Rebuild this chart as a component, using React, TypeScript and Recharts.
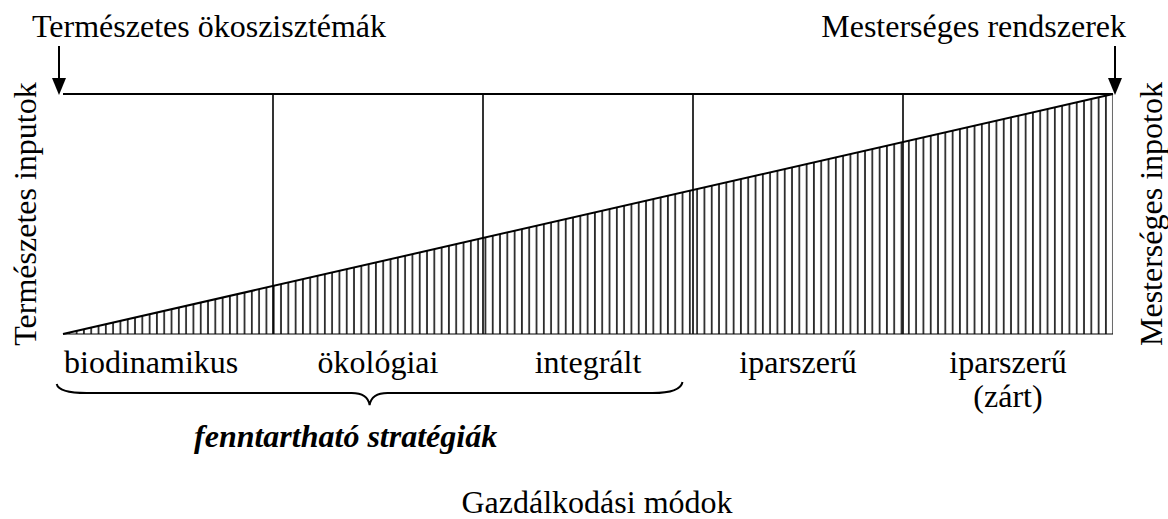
import React from "react";
import {
  ComposedChart,
  Area,
  XAxis,
  YAxis,
  ReferenceLine,
  ReferenceDot,
  ReferenceArea,
  Label,
} from "recharts";

// the triangle: natural inputs fall off as artificial inputs grow
const inputX = [0, 5];
const artificialShare = [0, 1];

// five farming modes, one segment each
const segmentBorders = [1, 2, 3, 4];
const modeLabels = [["biodinamikus"], ["ökológiai"], ["integrált"], ["iparszerű"], ["iparszerű", "(zárt)"]];
const modeLabelAt = [0.42, 1.5, 2.5, 3.5, 4.5];

// the brace under the first three modes
const braceFrom = -0.03;
const braceTo = 2.95;

const data = inputX.map((x, i) => ({ x, share: artificialShare[i] }));

const FONT = "'Times New Roman', 'Liberation Serif', serif";

const ModeTick = (props: any) => {
  const { x, y, payload } = props;
  const idx = modeLabelAt.indexOf(payload.value);
  const lines = modeLabels[idx] || [];
  return (
    <g>
      {lines.map((line, i) => (
        <text key={i} x={x} y={y + 39 + i * 34} textAnchor="middle" fontSize={32} fontFamily={FONT} fill="#000">
          {line}
        </text>
      ))}
    </g>
  );
};

const Brace = (props: any) => {
  const { x, y, width, height } = props;
  const L = x;
  const R = x + width;
  const top = y + height + 50;
  const mid = top + 9;
  const T = (L + R) / 2;
  const tipY = mid + 12;
  const d = `M${L},${top} Q${L + 2},${mid} ${L + 30},${mid} L${T - 18},${mid} Q${T - 2},${mid} ${T},${tipY} Q${T + 2},${mid} ${T + 18},${mid} L${R - 30},${mid} Q${R - 2},${mid} ${R},${top - 2}`;
  return (
    <g>
      <path d={d} fill="none" stroke="#000" strokeWidth={2} />
      <text x={T - 24} y={mid + 54} textAnchor="middle" fontSize={32} fontFamily={FONT} fontStyle="italic" fontWeight="bold" fill="#000">
        fenntartható stratégiák
      </text>
    </g>
  );
};

const arrow = (dx: number, title: string, anchor: "start" | "end", tx: number) => (props: any) => {
  const { cx, cy } = props;
  const ax = cx + dx;
  return (
    <g>
      <line x1={ax} y1={cy - 48} x2={ax} y2={cy - 12} stroke="#000" strokeWidth={2} />
      <polygon points={`${ax - 7},${cy - 16} ${ax + 7},${cy - 16} ${ax},${cy + 1}`} fill="#000" />
      <text x={cx + tx} y={cy - 57} textAnchor={anchor} fontSize={32} fontFamily={FONT} fill="#000">
        {title}
      </text>
    </g>
  );
};

const sideTitle = (text: string, dx: number) => (props: any) => {
  const { viewBox } = props;
  const cx = viewBox.x + dx;
  const cy = viewBox.y + viewBox.height / 2;
  return (
    <text x={cx} y={cy} transform={`rotate(-90 ${cx} ${cy})`} textAnchor="middle" fontSize={32} fontFamily={FONT} fill="#000">
      {text}
    </text>
  );
};

const bottomTitle = (props: any) => {
  const { viewBox } = props;
  return (
    <text x={597} y={viewBox.y + 179} textAnchor="middle" fontSize={32} fontFamily={FONT} fill="#000">
      Gazdálkodási módok
    </text>
  );
};

export default function App() {
  return (
    <div style={{ position: "absolute", left: 0, top: 0, background: "#fff", fontFamily: FONT }}>
      <ComposedChart width={1168} height={519} data={data} margin={{ top: 94, right: 0, bottom: 0, left: 0 }}>
        <defs>
          <pattern id="hatch" patternUnits="userSpaceOnUse" width={7.3} height={10}>
            <line x1={3.6} y1={0} x2={3.6} y2={10} stroke="#2a2a2a" strokeWidth={1.8} />
          </pattern>
        </defs>
        <XAxis
          type="number"
          dataKey="x"
          domain={[0, 5]}
          ticks={modeLabelAt}
          tick={<ModeTick />}
          tickSize={0}
          tickMargin={0}
          tickLine={false}
          axisLine={false}
          height={185}
          interval={0}
        >
          <Label content={bottomTitle} />
        </XAxis>
        <YAxis yAxisId="l" domain={[0, 1]} width={63} tick={false} axisLine={false} tickLine={false}>
          <Label content={sideTitle("Természetes inputok", 36)} />
        </YAxis>
        <YAxis yAxisId="r" orientation="right" domain={[0, 1]} width={55} tick={false} axisLine={false} tickLine={false}>
          <Label content={sideTitle("Mesterséges inpotok", 49)} />
        </YAxis>
        <Area
          yAxisId="l"
          type="linear"
          dataKey="share"
          fill="url(#hatch)"
          fillOpacity={1}
          stroke="#000"
          strokeWidth={2}
          isAnimationActive={false}
          dot={false}
          activeDot={false}
        />
        <ReferenceLine yAxisId="l" y={0} stroke="#000" strokeWidth={1} />
        <ReferenceLine yAxisId="l" y={1} stroke="#000" strokeWidth={2} />
        {segmentBorders.map((b) => (
          <ReferenceLine key={b} yAxisId="l" x={b} stroke="#000" strokeWidth={1.6} />
        ))}
        <ReferenceArea yAxisId="l" x1={braceFrom} x2={braceTo} y1={0} y2={1} ifOverflow="visible" shape={Brace} />
        <ReferenceDot
          yAxisId="l"
          x={0}
          y={1}
          ifOverflow="visible"
          shape={arrow(-4, "Természetes ökoszisztémák", "start", -31)}
        />
        <ReferenceDot
          yAxisId="l"
          x={5}
          y={1}
          ifOverflow="visible"
          shape={arrow(2, "Mesterséges rendszerek", "end", 13)}
        />
      </ComposedChart>
    </div>
  );
}
